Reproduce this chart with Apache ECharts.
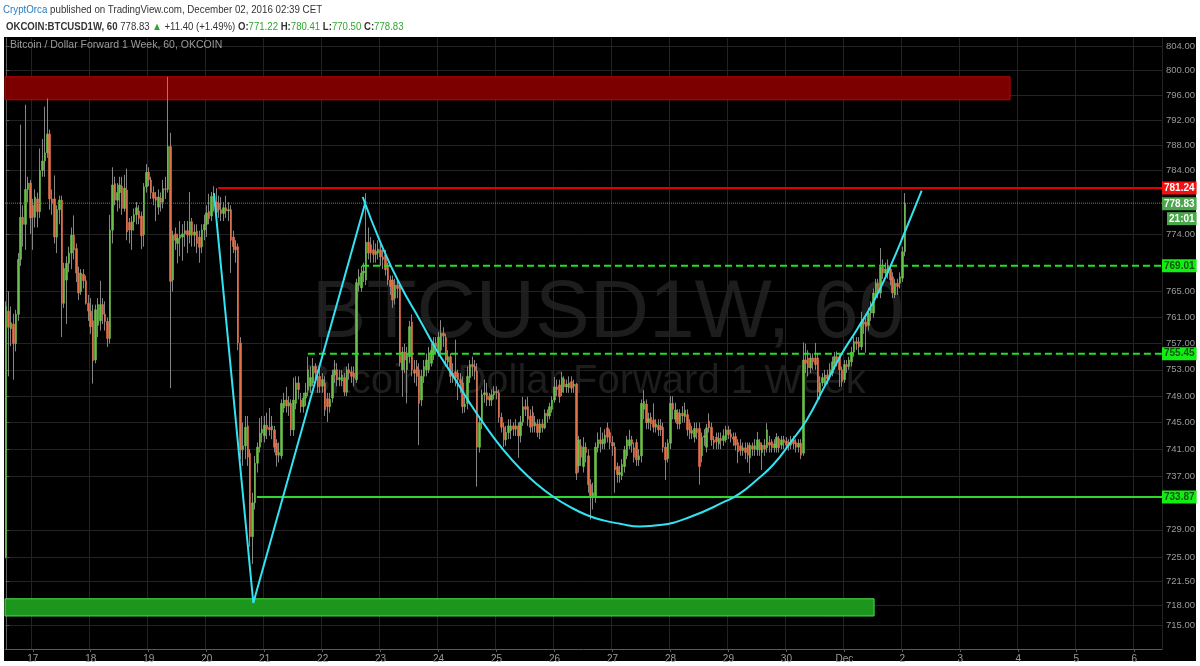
<!DOCTYPE html>
<html><head><meta charset="utf-8">
<script src="https://cdn.jsdelivr.net/npm/echarts@6/dist/echarts.min.js"></script>
<style>
html,body{margin:0;padding:0;background:#fff;width:1200px;height:666px;overflow:hidden;font-family:'Liberation Sans',Arial,sans-serif}
#panel{position:absolute;left:4px;top:37px;width:1192px;height:624px;background:#000}
#c{position:absolute;left:0;top:0;width:1200px;height:666px}
.hd{position:absolute;left:4px;white-space:nowrap;font-size:11px;color:#333;line-height:14px;transform-origin:0 50%}
#h1{top:2px;left:3px;transform:scaleX(0.885)}
#h2{top:19px;left:6px;transform:scaleX(0.873)}
.bl{color:#2a7cc0}
.gr{color:#2fa52f}
</style></head>
<body>
<div id="panel"></div>
<div id="c"></div>
<div class="hd" id="h1"><span class="bl">CryptOrca</span> published on TradingView.com, December 02, 2016 02:39 CET</div>
<div class="hd" id="h2"><b>OKCOIN:BTCUSD1W, 60</b> 778.83 <span class="gr">&#9650;</span> +11.40 (+1.49%) <b>O:</b><span class="gr">771.22</span> <b>H:</b><span class="gr">780.41</span> <b>L:</b><span class="gr">770.50</span> <b>C:</b><span class="gr">778.83</span></div>
<script>
// ---- hourly candles [open, close, low, high], grouped by day ----
const nov16 = [[725.0,762.7,724.8,763.5],[762.0,759.5,752.0,765.0],[759.3,760.2,756.6,762.7],[760.0,757.0,751.5,761.6],[757.0,761.5,755.8,762.2],[761.5,770.0,760.5,771.0],[770.0,776.6,769.0,791.3],[776.6,775.5,772.0,778.5],[775.5,781.0,771.5,794.5],[781.0,782.0,779.0,783.0],[782.0,776.5,774.0,782.5]];
const nov17 = [[778.5,776.6,771.5,779.5],[776.6,779.8,775.0,781.0],[779.5,777.5,775.0,780.5],[777.5,784.0,776.5,787.5],[784.0,785.5,783.0,789.0],[785.5,786.8,783.0,794.2],[786.8,789.8,786.0,795.5],[789.8,779.5,777.8,790.5],[779.5,778.7,777.0,781.0],[779.5,773.5,772.5,783.2],[773.5,777.8,771.0,778.5],[777.8,779.3,775.5,780.0],[779.3,763.2,758.0,780.0],[763.2,768.6,762.5,769.5],[766.8,769.4,760.0,770.5],[769.4,771.0,768.0,772.0],[771.0,773.8,768.5,775.0],[773.8,771.5,770.0,776.9],[771.7,767.9,766.5,772.5],[767.9,764.8,763.7,768.9],[765.0,767.9,764.5,768.5],[767.7,766.7,765.5,768.5],[766.7,763.2,763.0,767.5],[763.2,762.0,760.5,764.5]];
const nov18 = [[762.0,759.6,758.5,764.0],[760.5,754.4,750.9,763.0],[754.5,762.2,754.0,763.0],[759.8,763.0,758.0,764.0],[760.5,763.0,759.0,766.7],[763.0,761.5,760.0,764.0],[761.5,760.4,759.0,763.5],[760.4,757.8,756.5,761.0],[757.8,774.6,757.0,777.0],[774.6,781.7,772.5,784.5],[781.9,779.3,778.5,783.0],[779.3,780.5,777.5,782.0],[780.5,781.7,778.0,783.0],[781.5,778.0,777.0,783.0],[778.0,781.2,777.5,783.3],[780.9,774.3,773.0,784.3],[775.8,774.6,772.5,776.5],[774.6,775.9,771.5,776.8],[775.9,777.0,774.5,778.0],[777.0,778.1,775.5,779.0],[777.6,776.4,775.5,778.5],[776.8,773.7,771.6,777.5],[773.9,781.4,772.0,782.0],[781.4,783.7,780.5,785.0]];
const nov19 = [[783.7,782.5,781.5,784.5],[782.5,780.5,779.5,783.0],[780.5,779.6,778.5,781.5],[779.8,779.3,776.0,780.6],[778.2,779.8,777.0,781.0],[779.6,779.0,777.5,780.5],[779.0,781.1,778.0,782.5],[781.1,781.0,779.5,783.0],[781.0,787.8,780.5,799.0],[787.8,766.6,750.2,790.0],[766.8,773.8,765.0,774.5],[774.0,773.0,771.5,775.0],[772.5,773.3,769.4,774.0],[773.3,773.8,770.5,776.0],[773.5,774.0,769.8,775.5],[774.0,774.5,772.0,776.0],[774.5,773.8,771.0,776.0],[773.8,775.9,772.5,780.6],[775.9,773.8,772.0,776.5],[773.8,774.3,772.0,775.5],[774.4,772.5,771.0,775.5],[773.5,771.9,769.5,774.5],[772.0,774.6,771.0,775.5],[774.6,775.5,773.0,777.0]];
const nov20 = [[775.5,777.3,773.5,778.5],[777.5,776.4,775.5,780.3],[776.8,779.9,776.0,780.6],[779.9,779.0,777.5,781.5],[779.0,777.4,776.5,781.2],[778.8,777.8,776.5,780.0],[777.8,777.2,776.0,779.8],[777.2,778.1,776.0,779.0],[778.1,777.6,776.5,780.0],[777.6,777.8,776.0,779.0],[777.8,773.0,767.9,778.5],[773.5,772.0,771.0,774.5],[772.0,771.5,769.5,773.0],[772.0,757.1,756.0,772.5],[757.1,740.9,739.5,758.0],[740.9,741.5,738.5,745.0],[741.5,744.3,739.5,746.0],[744.5,739.8,738.5,746.0],[740.4,728.0,726.5,741.0],[728.0,733.0,724.0,734.5],[733.0,738.9,732.0,740.0],[738.9,741.3,737.5,742.0],[741.3,743.4,740.5,745.7],[743.4,744.0,742.0,746.0]];
const nov21 = [[743.0,744.6,742.0,746.0],[744.6,744.0,742.5,746.5],[744.3,743.9,743.0,747.2],[743.9,744.5,742.5,746.0],[743.9,741.3,740.5,744.5],[741.9,740.1,738.4,742.5],[740.1,740.5,739.0,742.0],[740.0,747.9,739.5,748.5],[747.2,748.4,746.5,749.5],[748.4,747.5,746.5,750.4],[747.5,748.0,746.0,749.0],[747.9,743.9,743.0,748.5],[743.9,748.4,743.0,751.8],[747.9,751.0,747.0,752.0],[751.0,750.0,748.5,752.0],[748.4,747.4,746.5,749.5],[747.4,748.7,746.5,749.5],[748.7,749.5,747.5,751.0],[749.9,753.0,749.0,755.0],[750.5,751.8,749.5,753.5],[751.0,753.5,750.5,754.8],[753.5,752.5,751.5,754.0],[752.0,750.4,749.5,753.0],[752.0,750.5,749.5,753.5]];
const nov22 = [[750.5,751.5,749.5,752.5],[751.0,746.9,746.0,752.0],[748.6,747.4,745.1,749.5],[747.4,748.5,746.5,749.5],[748.7,752.2,748.0,753.0],[752.2,753.0,751.0,754.5],[753.0,751.5,750.5,754.0],[751.5,751.8,750.5,753.0],[751.3,752.2,750.5,753.0],[751.8,749.6,749.0,752.5],[749.6,753.0,749.0,753.5],[753.0,752.5,751.5,754.0],[752.7,752.0,751.0,753.5],[752.5,751.8,750.5,753.5],[751.5,766.4,751.0,767.0],[766.0,767.3,765.0,768.5],[765.6,767.9,765.0,769.0],[767.9,768.2,766.5,769.5],[766.8,772.7,766.0,780.4],[772.7,771.0,770.0,775.0],[772.3,771.0,769.5,773.5],[771.5,770.8,769.5,773.0],[770.8,771.3,769.5,772.5],[771.0,771.6,770.0,773.0]];
const nov23 = [[771.5,770.4,769.0,772.5],[770.4,770.0,768.5,771.5],[770.7,768.4,767.5,771.5],[768.8,766.8,766.0,769.5],[766.8,765.8,764.5,767.5],[766.8,763.7,762.5,767.5],[764.0,766.0,763.0,767.0],[766.0,765.5,764.0,767.0],[765.7,754.1,753.5,766.5],[753.0,755.7,748.9,756.5],[755.7,754.5,752.5,757.0],[753.0,755.5,747.9,756.5],[755.0,759.6,754.0,760.5],[760.3,753.0,752.0,761.5],[753.0,752.5,751.0,754.5],[753.5,752.0,750.5,754.5],[753.0,747.9,741.6,754.0],[748.4,752.0,747.5,753.0],[752.0,753.5,751.0,754.5],[753.0,754.5,752.0,755.5],[753.0,755.6,752.5,756.5],[754.0,756.0,753.5,757.0],[755.5,757.1,754.5,758.0],[757.1,756.5,755.5,758.0]];
const nov24 = [[755.6,758.0,755.0,758.8],[756.0,758.6,755.5,760.6],[758.6,758.2,756.5,759.5],[757.9,754.5,753.5,758.5],[754.2,755.0,753.5,756.0],[755.0,752.0,751.0,755.5],[752.0,752.5,751.0,754.0],[752.7,751.8,750.5,757.6],[752.5,751.5,748.4,753.0],[751.5,751.0,749.5,752.5],[751.0,747.4,746.4,752.0],[747.4,747.8,746.5,749.0],[747.9,752.0,747.0,753.5],[751.8,753.8,751.0,754.5],[753.8,753.5,752.0,755.0],[753.5,752.8,751.5,754.5],[752.8,741.3,735.4,754.0],[741.3,745.0,740.5,746.0],[745.0,749.2,744.0,750.0],[749.2,749.5,748.0,751.5],[749.5,748.5,747.5,751.0],[749.0,748.4,747.5,749.5],[748.4,749.2,747.5,750.0],[749.2,749.7,748.5,750.5]];
const nov25 = [[749.7,749.5,748.5,750.5],[749.5,745.8,745.0,750.0],[745.8,744.3,743.5,746.5],[744.3,742.4,741.3,745.0],[742.4,743.5,741.5,744.5],[743.5,744.5,742.5,745.5],[743.8,744.5,742.5,745.5],[744.5,744.0,743.0,745.0],[744.0,744.5,743.0,745.5],[744.5,743.0,739.7,745.0],[743.0,745.1,742.0,746.0],[745.1,747.4,744.5,748.9],[747.4,747.0,746.0,748.5],[747.4,745.5,744.5,748.9],[746.0,744.3,743.5,747.0],[746.5,744.5,743.5,747.5],[744.5,745.0,743.5,746.0],[744.8,743.5,742.8,745.5],[743.5,744.8,742.5,745.5],[744.8,744.2,743.5,745.5],[744.2,746.4,744.0,747.0],[746.4,746.0,745.0,747.0],[746.0,747.4,745.5,748.0],[747.0,748.4,746.5,749.0]];
const nov26 = [[748.4,750.4,748.0,751.9],[750.4,750.0,749.0,751.5],[750.7,748.9,748.0,751.5],[749.6,751.8,749.0,752.7],[751.6,750.4,749.5,752.0],[750.4,750.8,749.5,751.5],[750.3,751.0,749.5,752.0],[751.2,750.2,749.5,752.0],[750.5,750.8,749.5,751.5],[750.8,737.4,736.4,751.0],[738.5,742.4,737.5,743.0],[741.5,739.8,738.5,742.5],[738.4,741.3,737.5,742.8],[741.3,740.5,739.0,742.0],[740.0,735.7,734.5,741.0],[735.7,733.9,730.5,736.5],[734.0,734.5,732.0,736.0],[733.9,741.3,733.0,742.0],[741.2,742.4,740.5,743.5],[742.4,741.8,740.5,744.3],[741.8,742.5,741.0,743.5],[741.9,743.1,741.0,744.0],[744.2,742.8,742.0,745.0],[743.5,742.0,741.0,744.0]];
const nov27 = [[742.0,741.5,740.0,743.0],[741.3,737.9,734.5,742.0],[738.4,737.2,736.0,739.0],[737.2,737.5,736.0,738.5],[737.0,738.7,736.4,739.5],[738.4,740.9,737.5,741.5],[740.0,742.4,739.5,743.0],[741.5,742.4,741.0,743.9],[742.4,741.8,740.5,743.0],[741.2,739.8,739.0,742.0],[742.0,739.4,738.5,742.5],[739.4,740.0,738.5,741.0],[740.0,747.9,739.0,748.5],[747.0,748.2,745.5,749.9],[747.8,745.0,744.0,748.5],[745.0,745.6,744.0,746.5],[745.8,744.8,743.8,746.5],[745.4,744.3,743.5,747.9],[744.3,744.8,743.5,745.5],[744.6,743.9,743.0,745.5],[744.5,743.9,743.0,745.5],[744.3,741.3,740.5,745.0],[741.3,739.4,736.4,742.0],[739.6,741.9,739.0,742.5]];
const nov28 = [[741.9,747.9,741.0,749.0],[747.9,747.0,745.5,749.0],[745.5,746.9,745.0,748.0],[746.5,744.8,744.0,747.0],[744.8,746.4,744.0,747.0],[746.4,746.0,745.0,747.5],[745.9,746.9,745.0,748.0],[746.2,743.9,743.0,747.0],[744.9,743.4,742.5,745.5],[743.4,743.8,742.5,744.5],[742.8,744.1,742.0,745.0],[744.1,743.5,742.5,745.0],[744.1,738.4,735.7,745.0],[740.0,742.8,739.0,743.5],[742.8,743.0,741.5,744.0],[741.3,744.2,740.5,744.8],[745.2,744.2,743.5,746.4],[744.3,742.4,741.5,745.0],[742.4,742.0,741.0,743.0],[742.8,742.1,741.0,743.5],[741.8,742.6,741.0,743.5],[742.6,742.3,741.0,743.5],[742.3,743.0,741.5,744.0],[742.4,743.9,742.0,744.5]];
const nov29 = [[743.9,743.2,742.5,744.5],[743.3,742.8,742.0,744.0],[742.8,742.5,741.5,743.5],[742.9,741.6,740.8,743.5],[742.0,740.6,738.9,742.5],[741.5,740.8,740.0,742.5],[740.8,741.2,740.0,742.0],[741.2,740.5,739.5,742.0],[741.6,740.1,739.0,742.0],[739.7,741.6,737.4,742.0],[741.5,741.0,740.0,742.0],[741.0,741.5,740.0,742.5],[740.9,742.4,740.0,743.6],[742.0,740.9,740.0,742.5],[740.5,741.6,737.9,742.0],[741.6,741.0,740.0,742.5],[741.2,743.9,740.5,744.9],[742.0,741.6,740.5,743.0],[742.1,741.2,740.5,742.5],[741.2,741.8,740.5,742.5],[741.2,742.8,740.5,743.4],[742.6,741.2,740.5,743.0],[741.6,742.4,741.0,743.0],[742.4,742.0,741.0,743.0]];
const nov30 = [[742.2,741.6,741.0,742.8],[742.0,741.6,740.8,742.5],[741.6,742.4,741.0,743.0],[742.4,741.8,741.0,743.0],[742.0,741.3,740.5,742.5],[741.3,741.9,740.5,742.5],[741.9,740.1,739.5,742.5],[740.4,754.5,740.0,757.2],[754.5,754.0,752.5,757.0],[754.8,753.3,752.0,756.0],[753.3,754.8,752.5,755.5],[754.8,754.2,753.0,755.5],[754.8,753.8,753.0,757.1],[754.8,749.6,748.5,755.5],[749.5,751.0,748.5,752.0],[751.0,751.8,750.5,752.5],[751.0,752.2,750.5,753.0],[752.2,751.6,750.8,753.0],[752.0,753.0,751.5,754.0],[752.5,754.2,752.0,755.0],[754.0,755.0,753.0,755.7],[755.0,754.6,753.5,755.8],[755.0,753.0,750.4,755.5],[753.0,751.2,750.4,753.5]];
const dec01 = [[751.5,753.8,751.0,754.5],[753.8,753.5,752.5,754.5],[753.5,754.5,753.0,755.0],[754.2,755.7,753.5,756.5],[755.7,757.3,755.0,758.0],[757.3,757.0,756.0,758.0],[757.3,756.5,755.5,758.0],[756.5,760.3,756.0,761.9],[760.3,760.0,758.5,761.0],[760.3,759.6,755.6,761.0],[759.8,761.7,759.0,762.5],[761.7,762.5,760.5,763.5],[761.7,764.8,761.0,765.5],[764.5,766.3,764.0,767.0],[766.3,764.8,764.0,767.0],[764.8,768.8,764.0,771.8],[768.8,767.9,767.0,770.0],[767.9,768.5,767.0,769.5],[767.9,769.1,767.0,770.0],[768.5,766.8,766.0,769.0],[767.3,764.8,764.0,768.0],[764.5,766.3,764.0,767.0],[766.3,765.8,764.5,767.0],[766.3,767.3,765.5,768.0]];
const dec02 = [[767.1,771.2,766.5,772.0],[771.22,778.83,770.50,780.41]];

// ---- axis labels ----
const dayLabels = ['17','18','19','20','21','22','23','24','25','26','27','28','29','30','Dec','2','3','4','5','6'];
const priceTicks = [715,718,721.5,725,729,737,741,745,749,753,757,761,765,774,784,788,792,796,800,804];

// ---- drawn levels (price) and the hour index where each begins ----
const levelValues = [781.24, 778.83, 769.01, 755.45, 733.87];
const levelStarts = [87.7, -0.5, 147.3, 124.9, 103.8];

// ---- zones [fromHour, toHour, lowPrice, highPrice] ----
const redZone = [-0.5, 415.6, 795.3, 799.0];
const greenZone = [-0.5, 359.3, 716.4, 718.9];

// ---- cyan drawings: hour index + price ----
const zigzagHour = [86.0, 102.3, 148.8];
const zigzagPrice = [780.4, 718.3, 779.1];
const cupHour = [147.6,155.0,163.0,171.3,178.2,185.1,192.0,198.9,205.8,212.7,219.6,226.5,233.4,240.3,247.2,254.1,262.4,270.7,283.1,297.6,303.8,310.7,317.6,324.5,331.4,338.3,345.2,352.1,359.0,365.9,372.8,379.0];
const cupPrice = [779.8,772.6,766.1,760.6,756.0,752.0,747.9,744.2,740.9,738.1,735.8,733.9,732.4,731.2,730.4,729.9,729.5,729.7,730.9,733.2,734.4,736.4,738.7,741.9,745.4,750.1,755.0,759.1,763.4,768.8,775.0,780.8];

// ---------------------------------------------------------------
const candles = [].concat(nov16,nov17,nov18,nov19,nov20,nov21,nov22,nov23,nov24,nov25,nov26,nov27,nov28,nov29,nov30,dec01,dec02);
const bodies = candles.map(c => [c[0], c[1], Math.min(c[0], c[1]), Math.max(c[0], c[1])]);
const HOURS = 479;
const t0 = Date.UTC(2016, 10, 16, 13);
const categories = [];
for (let i = 0; i < HOURS; i++) {
  const d = new Date(t0 + i * 3600000);
  categories.push((d.getUTCMonth() + 1) + '-' + d.getUTCDate() + ' ' + d.getUTCHours() + ':00');
}
const XMAX = HOURS - 0.5;
const isDay = (i) => i % 24 === 11;

const UP = '#6cc04a', DOWN = '#e3714a', WICK = '#858585';
const levelStyles = [
  {color: '#e00000', width: 2, type: 'solid', tag: {bg: '#f41010', fg: '#fff'}},
  {color: '#46a046', width: 1, type: 'dotted', tag: {bg: '#4aa64a', fg: '#fff'}},
  {color: '#22e022', width: 2, type: [7, 4], tag: {bg: '#11ee11', fg: '#145214'}},
  {color: '#22e022', width: 2, type: [7, 4], tag: {bg: '#11ee11', fg: '#145214'}},
  {color: '#2ed82e', width: 2, type: 'solid', tag: {bg: '#11ee11', fg: '#145214'}}
];

const levelSeries = levelValues.map((v, k) => {
  const st = levelStyles[k];
  const isLast = k === 1;
  return {
    type: 'line', xAxisIndex: 1, silent: true, showSymbol: false, z: 5,
    data: [[levelStarts[k], v], [XMAX, v]],
    lineStyle: {color: st.color, width: st.width, type: st.type},
    endLabel: {
      show: true, distance: 0,
      offset: isLast ? [0, 8] : [0, 0],
      formatter: isLast ? '{p|' + v.toFixed(2) + '}\n{t|21:01}' : v.toFixed(2),
      backgroundColor: isLast ? 'transparent' : st.tag.bg,
      color: st.tag.fg, fontWeight: 'bold', fontSize: 10, fontFamily: 'Liberation Sans',
      padding: isLast ? 0 : [2, 2, 1, 2],
      rich: isLast ? {
        p: {backgroundColor: st.tag.bg, color: '#fff', fontWeight: 'bold', fontSize: 10, padding: [2, 2, 1, 2], lineHeight: 15},
        t: {backgroundColor: st.tag.bg, color: '#fff', fontWeight: 'bold', fontSize: 10, padding: [2, 2, 1, 2], lineHeight: 15, align: 'right'}
      } : undefined
    }
  };
});

const chart = echarts.init(document.getElementById('c'), null, {renderer: 'canvas'});
chart.setOption({
  animation: false,
  backgroundColor: 'transparent',
  title: {
    text: 'Bitcoin / Dollar Forward 1 Week, 60, OKCOIN', left: 10, top: 40, padding: 0,
    textStyle: {color: '#9a9a9a', fontSize: 10.5, fontWeight: 'normal', fontFamily: 'Liberation Sans'}
  },
  graphic: [
    {type: 'text', x: 608, y: 314, silent: true, z: 0,
     style: {text: 'BTCUSD1W, 60', font: '82px "Liberation Sans"', fill: '#1d1d1d', textAlign: 'center', textVerticalAlign: 'middle'}},
    {type: 'text', x: 304, y: 382, silent: true, z: 0,
     style: {text: 'Bitcoin / Dollar Forward 1 Week', font: '40px "Liberation Sans"', fill: '#1d1d1d', textAlign: 'left', textVerticalAlign: 'middle'}}
  ],
  grid: {left: 5, right: 38, top: 38, bottom: 17, containLabel: false},
  xAxis: [
    {
      type: 'category', data: categories, boundaryGap: true,
      axisLine: {lineStyle: {color: '#5a5a5a'}},
      axisTick: {show: true, interval: isDay, alignWithLabel: true, length: 3, lineStyle: {color: '#5a5a5a'}},
      axisLabel: {interval: isDay, formatter: (v, i) => dayLabels[(i - 11) / 24], color: '#9a9a9a', fontSize: 10, margin: 5, fontFamily: 'Liberation Sans'},
      splitLine: {show: true, interval: isDay, lineStyle: {color: '#232323'}}
    },
    {type: 'value', min: -0.5, max: XMAX, show: false}
  ],
  yAxis: {
    type: 'log', logBase: 10, min: 711.63, max: 805.30, position: 'right',
    axisLine: {show: true, lineStyle: {color: '#5a5a5a'}},
    axisTick: {show: true, length: 3, customValues: priceTicks, lineStyle: {color: '#5a5a5a'}},
    axisLabel: {customValues: priceTicks, formatter: v => Number(v).toFixed(2), color: '#9a9a9a', fontSize: 9.5, margin: 4, fontFamily: 'Liberation Sans'},
    splitLine: {show: true, lineStyle: {color: '#232323'}}
  },
  series: [
    {type: 'candlestick', name: 'wick', data: candles, barWidth: 1, z: 2, silent: true,
     itemStyle: {color: WICK, color0: WICK, borderColor: WICK, borderColor0: WICK, borderWidth: 1}},
    {type: 'candlestick', name: 'body', data: bodies, barWidth: 2, z: 3, silent: true,
     itemStyle: {color: UP, color0: DOWN, borderColor: UP, borderColor0: DOWN, borderWidth: 0.6}},
    ...levelSeries,
    {type: 'line', xAxisIndex: 1, silent: true, showSymbol: false, z: 6,
     data: zigzagHour.map((h, k) => [h, zigzagPrice[k]]),
     lineStyle: {color: '#33e3f2', width: 2},
     markArea: {silent: true, label: {show: false}, data: [
       [{coord: [redZone[0], redZone[3]], itemStyle: {color: '#7d0000', borderColor: '#c40000', borderWidth: 1}}, {coord: [redZone[1], redZone[2]]}],
       [{coord: [greenZone[0], greenZone[3]], itemStyle: {color: '#1c961c', borderColor: '#45e045', borderWidth: 1}}, {coord: [greenZone[1], greenZone[2]]}]
     ]}},
    {type: 'line', xAxisIndex: 1, silent: true, showSymbol: false, z: 6, smooth: 0.5,
     data: cupHour.map((h, k) => [h, cupPrice[k]]),
     lineStyle: {color: '#33e3f2', width: 2}}
  ]
});
</script>
</body></html>
